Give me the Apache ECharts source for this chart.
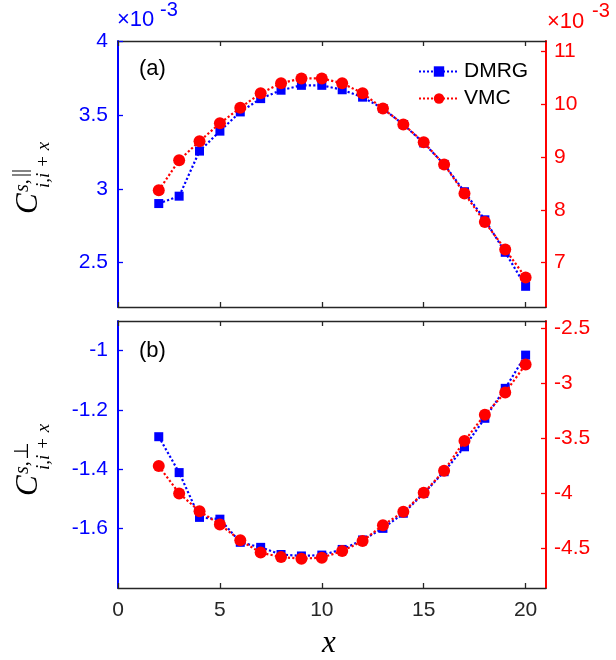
<!DOCTYPE html>
<html>
<head>
<meta charset="utf-8">
<script src="https://cdn.jsdelivr.net/npm/echarts@6/dist/echarts.min.js"></script>
<style>
html,body{margin:0;padding:0;background:#fff;}
#chart{width:616px;height:660px;}
</style>
</head>
<body>
<div id="chart"></div>
<script>
// ---- data ----
const xValues = [2,3,4,5,6,7,8,9,10,11,12,13,14,15,16,17,18,19,20];
// panel (a), units of 1e-3
const dmrgPar = [2.90,2.95,3.255,3.39,3.52,3.61,3.667,3.70,3.70,3.67,3.62,3.543,3.435,3.31,3.165,2.98,2.79,2.57,2.34];
const vmcPar  = [8.37,8.94,9.30,9.64,9.935,10.21,10.40,10.49,10.49,10.40,10.21,9.92,9.62,9.28,8.86,8.31,7.77,7.25,6.72];
// panel (b)
const dmrgPerp = [-1.29,-1.411,-1.562,-1.568,-1.646,-1.663,-1.687,-1.692,-1.689,-1.670,-1.638,-1.599,-1.548,-1.481,-1.408,-1.324,-1.228,-1.127,-1.015];
const vmcPerp  = [-3.750,-3.999,-4.161,-4.282,-4.426,-4.538,-4.579,-4.593,-4.584,-4.524,-4.432,-4.289,-4.167,-3.994,-3.793,-3.521,-3.283,-3.080,-2.826];
// tick labels
const xTicks = [0,5,10,15,20];
const yTicksParL = [2.5,3,3.5,4];
const yTicksParR = [7,8,9,10,11];
const yTicksPerpL = [-1.6,-1.4,-1.2,-1];
const yTicksPerpR = [-4.5,-4,-3.5,-3,-2.5];
const seriesNames = ['DMRG','VMC'];

const BLUE = '#0000ff', RED = '#ff0000', DARK = '#262626';
const FONT = 'Liberation Sans';
const SERIF = 'Liberation Serif';
const FS = 21;

function pairs(vals){ return xValues.map((x,i)=>[x, vals[i]]); }

function xAxisDef(gridIndex, position, showLabels){
  return {
    type:'value', gridIndex, position, min:0, max:21,
    axisLine:{show:true, onZero:false, lineStyle:{color:DARK, width:1.3}},
    axisTick:{show:true, inside:true, length:5, customValues:xTicks, lineStyle:{color:DARK, width:1.3}},
    axisLabel:{show:showLabels, customValues:xTicks, color:DARK, fontFamily:FONT, fontSize:FS, margin:12},
    splitLine:{show:false}
  };
}
function yAxisDef(gridIndex, position, min, max, ticks, color){
  return {
    type:'value', gridIndex, position, min, max,
    axisLine:{show:true, onZero:false, lineStyle:{color, width:2}},
    axisTick:{show:true, inside:true, length:5, customValues:ticks, lineStyle:{color, width:1.3}},
    axisLabel:{show:true, customValues:ticks, color, fontFamily:FONT, fontSize:FS, margin: position==='left'?10:8},
    splitLine:{show:false}
  };
}

const grids = [
  {left:118, right:70, top:41, height:266},
  {left:118, right:70, top:321, height:267}
];

const chart = echarts.init(document.getElementById('chart'));

function yName(x, y, supChildren){
  return {
    type:'group', x, y, rotation: Math.PI/2,
    children:[
      {type:'text', x:0, y:0, style:{text:'C', font:'italic 31px "'+SERIF+'"', fill:'#000', verticalAlign:'bottom', align:'left'}},
      {type:'text', x:22, y:-11, style:{text:'s,', font:'italic 20px "'+SERIF+'"', fill:'#000', verticalAlign:'bottom', align:'left'}}
    ].concat(supChildren).concat([
      {type:'text', x:26, y:9, style:{text:'i,i + x', font:'italic 19px "'+SERIF+'"', fill:'#000', verticalAlign:'bottom', align:'left'}}
    ])
  };
}

chart.setOption({
  animation:false,
  backgroundColor:'#fff',
  grid: grids,
  xAxis:[ xAxisDef(0,'bottom',false), xAxisDef(0,'top',false), xAxisDef(1,'bottom',true), xAxisDef(1,'top',false) ],
  yAxis:[
    yAxisDef(0,'left',2.2,4,yTicksParL,BLUE),
    yAxisDef(0,'right',6.16,11.2,yTicksParR,RED),
    yAxisDef(1,'left',-1.8,-0.9,yTicksPerpL,BLUE),
    yAxisDef(1,'right',-4.86,-2.43,yTicksPerpR,RED)
  ],
  legend:{
    data:seriesNames, orient:'vertical', left:413, top:56,
    itemWidth:40, itemHeight:13, itemGap:6,
    textStyle:{color:'#000', fontFamily:FONT, fontSize:FS, padding:[0,0,0,0]}
  },
  series:[
    {name:seriesNames[0], type:'line', xAxisIndex:0, yAxisIndex:0, data:pairs(dmrgPar),
     symbol:'rect', symbolSize:9, itemStyle:{color:BLUE}, lineStyle:{color:BLUE, width:2.2, type:'dotted'}, z:2},
    {name:seriesNames[1], type:'line', xAxisIndex:0, yAxisIndex:1, data:pairs(vmcPar),
     symbol:'circle', symbolSize:12, itemStyle:{color:RED}, lineStyle:{color:RED, width:2.2, type:'dotted'}, z:3},
    {name:seriesNames[0], type:'line', xAxisIndex:2, yAxisIndex:2, data:pairs(dmrgPerp),
     symbol:'rect', symbolSize:9, itemStyle:{color:BLUE}, lineStyle:{color:BLUE, width:2.2, type:'dotted'}, z:2},
    {name:seriesNames[1], type:'line', xAxisIndex:2, yAxisIndex:3, data:pairs(vmcPerp),
     symbol:'circle', symbolSize:12, itemStyle:{color:RED}, lineStyle:{color:RED, width:2.2, type:'dotted'}, z:3}
  ],
  graphic:[
    {type:'text', left:117, top:9, style:{text:'×10', font:'22px "'+FONT+'"', fill:BLUE}},
    {type:'text', left:160, top:0, style:{text:'-3', font:'20px "'+FONT+'"', fill:BLUE}},
    {type:'text', left:547, top:11, style:{text:'×10', font:'22px "'+FONT+'"', fill:RED}},
    {type:'text', left:592, top:1, style:{text:'-3', font:'20px "'+FONT+'"', fill:RED}},
    {type:'text', left:139, top:58, style:{text:'(a)', font:'22px "'+FONT+'"', fill:'#000'}},
    {type:'text', left:139, top:340, style:{text:'(b)', font:'22px "'+FONT+'"', fill:'#000'}},
    {type:'text', left:322, top:628, style:{text:'x', font:'italic 31px "'+SERIF+'"', fill:'#000'}},
    yName(44, 214, [
      {type:'text', x:37, y:-13, style:{text:'||', font:'20px "'+SERIF+'"', fill:'#000', verticalAlign:'bottom', align:'left'}}
    ]),
    yName(44, 496, [
      {type:'text', x:36, y:-11, style:{text:'\u22A5', font:'20px "DejaVu Sans"', fill:'#000', verticalAlign:'bottom', align:'left'}}
    ])
  ]
});
</script>
</body>
</html>
